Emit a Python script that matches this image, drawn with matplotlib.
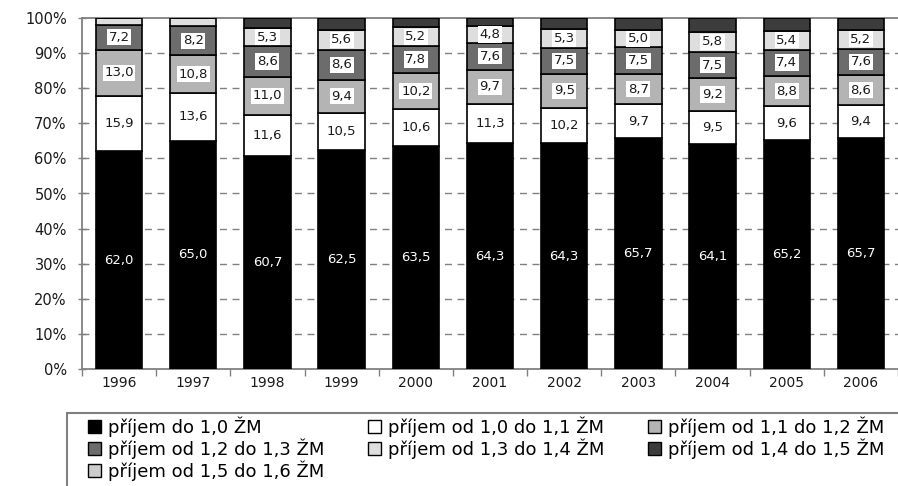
import matplotlib
matplotlib.use("Agg")
import matplotlib.pyplot as plt
from matplotlib.patches import Rectangle, Patch
import numpy as np

plt.rcParams['font.family'] = ['DejaVu Sans']

years = ['1996', '1997', '1998', '1999', '2000', '2001', '2002', '2003', '2004', '2005', '2006']
series_names = ['příjem do 1,0 ŽM', 'příjem od 1,0 do 1,1 ŽM', 'příjem od 1,1 do 1,2 ŽM',
                'příjem od 1,2 do 1,3 ŽM', 'příjem od 1,3 do 1,4 ŽM', 'příjem od 1,4 do 1,5 ŽM',
                'příjem od 1,5 do 1,6 ŽM']
do_10   = [62.0, 65.0, 60.7, 62.5, 63.5, 64.3, 64.3, 65.7, 64.1, 65.2, 65.7]
od10_11 = [15.9, 13.6, 11.6, 10.5, 10.6, 11.3, 10.2, 9.7, 9.5, 9.6, 9.4]
od11_12 = [13.0, 10.8, 11.0, 9.4, 10.2, 9.7, 9.5, 8.7, 9.2, 8.8, 8.6]
od12_13 = [7.2, 8.2, 8.6, 8.6, 7.8, 7.6, 7.5, 7.5, 7.5, 7.4, 7.6]
od13_14 = [1.9, 2.4, 5.3, 5.6, 5.2, 4.8, 5.3, 5.0, 5.8, 5.4, 5.2]
od14_15 = [0.0, 0.0, 2.8, 3.4, 2.7, 2.3, 3.2, 3.4, 3.9, 3.6, 3.5]
od15_16 = [0.0, 0.0, 0.0, 0.0, 0.0, 0.0, 0.0, 0.0, 0.0, 0.0, 0.0]
# which segments carry a printed value
labelled_13_14 = [False, False, True, True, True, True, True, True, True, True, True]

series = [do_10, od10_11, od11_12, od12_13, od13_14, od14_15, od15_16]
colors = ['#000000', '#ffffff', '#b4b4b4', '#6c6c6c', '#dedede', '#3c3c3c', '#cccccc']

fig = plt.figure(figsize=(8.98, 4.86), dpi=100)
W, H = 898, 486
ax = fig.add_axes([82 / W, 1 - 369 / H, (898 - 82) / W, (369 - 18) / H])

x = np.arange(len(years))
bottom = np.zeros(len(years))
bar_w = 0.625
for si, (vals, col) in enumerate(zip(series, colors)):
    vals = np.array(vals)
    ax.bar(x, vals, bar_w, bottom=bottom, color=col, edgecolor='black', linewidth=1.2, zorder=3)
    for i, v in enumerate(vals):
        if v <= 0:
            continue
        cy = bottom[i] + v / 2
        txt = f"{v:.1f}".replace('.', ',')
        if si == 0:
            ax.text(x[i], cy, txt, ha='center', va='center', color='white', fontsize=9.5, zorder=5)
        elif si in (1, 2, 3) or (si == 4 and labelled_13_14[i]):
            ax.text(x[i], cy, txt, ha='center', va='center', color='#1a1a1a', fontsize=9.5, zorder=5,
                    bbox=dict(boxstyle='square,pad=0.12', facecolor='white', edgecolor='none'))
    bottom += vals

ax.set_xlim(-0.48, 10.37)
ax.set_ylim(0, 100)
ax.set_yticks(np.arange(0, 101, 10))
ax.set_yticklabels([f"{v}%" for v in range(0, 101, 10)], fontsize=10.5, color='#1a1a1a')
for yv in range(10, 100, 10):
    ax.axhline(yv, color='#808080', linewidth=1, linestyle=(0, (5, 4)), zorder=1)

ax.set_xticks(x)
ax.set_xticklabels(years, fontsize=10, color='#1a1a1a')
ax.tick_params(axis='x', which='major', length=0, pad=5)
ax.set_xticks(np.arange(-0.5, 10.6, 1), minor=True)
ax.tick_params(axis='x', which='minor', length=5, color='#808080', width=1, direction='out')
ax.tick_params(axis='y', length=6, color='#808080', width=1, direction='inout', pad=8)

for s in ['left', 'bottom', 'top']:
    ax.spines[s].set_color('#808080')
    ax.spines[s].set_linewidth(1.3)
ax.spines['right'].set_visible(False)

# legend frame
fig.patches.append(Rectangle((67 / W, -0.05), 1.0, 1 - 413 / H + 0.05, transform=fig.transFigure,
                             fill=False, edgecolor='#808080', linewidth=1.5))

handles = [Patch(facecolor=c, edgecolor='black', linewidth=1.0, label=n) for c, n in zip(colors, series_names)]
order = [0, 3, 6, 1, 4, 2, 5]
fig.legend([handles[i] for i in order], [series_names[i] for i in order], ncol=3,
           loc='upper left', bbox_to_anchor=(88 / W, 1 - 416 / H), frameon=False,
           fontsize=13, handlelength=0.72, handleheight=0.72, handletextpad=0.4,
           columnspacing=2.4, labelspacing=0.1, borderpad=0, borderaxespad=0)

fig.savefig('out.png', dpi=100)
